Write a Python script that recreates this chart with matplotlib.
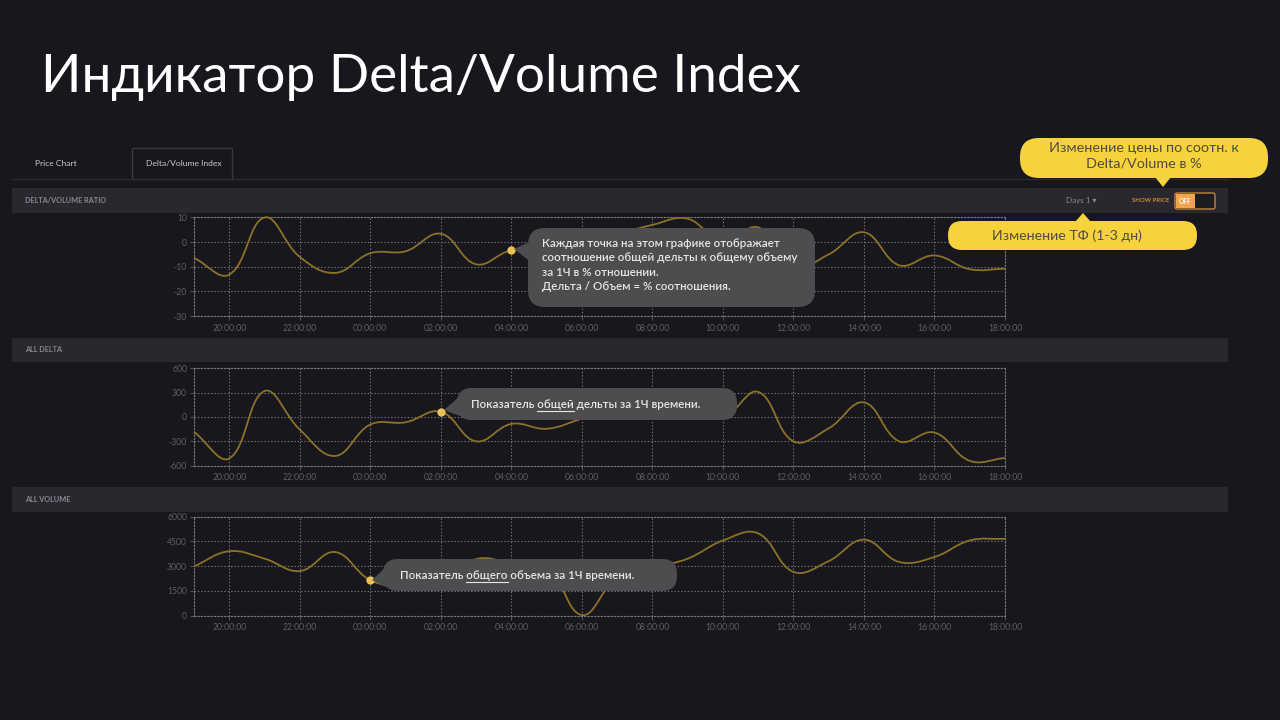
import matplotlib
matplotlib.use("Agg")
import matplotlib.pyplot as plt
from matplotlib.path import Path
from matplotlib.patches import PathPatch, FancyBboxPatch, Rectangle, Polygon
import numpy as np

plt.rcParams['font.family'] = ['Lato', 'DejaVu Sans']

# ---------------- data ----------------
hours = ["19:00:00", "20:00:00", "21:00:00", "22:00:00", "23:00:00", "00:00:00",
         "01:00:00", "02:00:00", "03:00:00", "04:00:00", "05:00:00", "06:00:00",
         "07:00:00", "08:00:00", "09:00:00", "10:00:00", "11:00:00", "12:00:00",
         "13:00:00", "14:00:00", "15:00:00", "16:00:00", "17:00:00", "18:00:00"]
ratio = [-6.4, -13.2, 10.0, -6.0, -12.5, -4.5, -3.7, 3.4, -9.0, -3.4, -4.5, -2.0,
         3.0, 7.0, 9.5, 0.0, 6.0, -10.0, -5.0, 4.0, -9.4, -5.4, -11.0, -10.8]
delta = [-183, -510, 320, -155, -480, -93, -65, 65, -300, -85, -145, -20,
         120, 200, 330, 20, 310, -300, -140, 180, -300, -192, -540, -505]
volume = [2980, 3900, 3450, 2700, 3850, 2150, 1800, 2000, 3420, 3200, 3000, 40,
          2300, 2900, 3450, 4550, 4980, 2650, 3300, 4600, 3250, 3550, 4550, 4650]

ratio_ticks = [-30, -20, -10, 0, 10]
delta_ticks = [-600, -300, 0, 300, 600]
volume_ticks = [0, 1500, 3000, 4500, 6000]

title = "Индикатор Delta/Volume Index"
tabs = ["Price Chart", "Delta/Volume Index"]
headers = ["DELTA/VOLUME RATIO", "ALL DELTA", "ALL VOLUME"]
callout_price = ["Изменение цены по соотн. к", "Delta/Volume в %"]
callout_tf = "Изменение ТФ (1-3 дн)"
tip_ratio = ["Каждая точка на этом графике отображает",
             "соотношение общей дельты к общему объему",
             "за 1Ч в % отношении.",
             "Дельта / Объем = % соотношения."]
tip_delta = ("Показатель ", "общей", " дельты за 1Ч времени.")
tip_volume = ("Показатель ", "общего", " объема за 1Ч времени.")

# ---------------- style ----------------
W, H = 1280, 720
BG = "#18171d"
BAR = "#29282f"
LINE = "#8b7228"
DOT = "#e8c158"
GRID = "#77767c"
TICK = "#5f5e65"
TIPBG = "#4d4d4f"
YEL = "#f6d23c"

fig = plt.figure(figsize=(12.8, 7.2), dpi=100, facecolor=BG)


def rect(x0, y0, x1, y1):
    return [x0 / W, 1 - y1 / H, (x1 - x0) / W, (y1 - y0) / H]


# background decoration layer
bg = fig.add_axes([0, 0, 1, 1], zorder=0)
bg.set_xlim(0, W)
bg.set_ylim(H, 0)
bg.axis('off')
bg.patch.set_alpha(0)

bg.plot([12, 1228], [179, 179], color="#2c2b33", lw=1)
bg.add_patch(Rectangle((132, 148), 100, 31, facecolor=BG, edgecolor="#3a3941", lw=1))
bg.text(35, 163, tabs[0], fontsize=6.1, color="#c9c9d0", va='center')
bg.text(146, 163, tabs[1], fontsize=6.1, color="#c9c9d0", va='center')

bars = [(188, 212.5), (338, 362), (487, 511.5)]
for (y0, y1), name in zip(bars, headers):
    bg.add_patch(Rectangle((12, y0), 1216, y1 - y0, facecolor=BAR, edgecolor='none'))
    bg.text(25, (y0 + y1) / 2, name, fontsize=5.2, color="#8b8a92", va='center',
            fontweight='bold')

bg.text(1066, 201, "Days 1 \u25BE", fontsize=5.8, color="#8a8990", va='center',
        family=['Lato', 'DejaVu Sans'])
bg.text(1132, 201, "SHOW PRICE", fontsize=4.3, color="#d08a33", va='center',
        fontweight='bold')
bg.add_patch(FancyBboxPatch((1175, 193), 40, 16,
                            boxstyle="round,pad=0,rounding_size=2",
                            facecolor="#1d1c22", edgecolor="#c0843a", lw=1))
bg.add_patch(Rectangle((1176, 194), 19, 14, facecolor="#f2a54a", edgecolor='none'))
bg.text(1185.5, 201.3, "OFF", fontsize=4.8, color="white", va='center', ha='center',
        fontweight='bold')


# ---------------- chart panels ----------------
def spline_path(xs, ys, sx, sy, t=0.4):
    P = np.column_stack([xs, ys]).astype(float)
    n = len(P)
    cprev, cnext = [], []
    for i in range(n):
        prev = P[max(i - 1, 0)]
        cur = P[i]
        nxt = P[min(i + 1, n - 1)]
        d01 = np.hypot((cur - prev)[0] * sx, (cur - prev)[1] * sy)
        d12 = np.hypot((nxt - cur)[0] * sx, (nxt - cur)[1] * sy)
        tot = d01 + d12
        s01 = d01 / tot if tot else 0
        s12 = d12 / tot if tot else 0
        cprev.append(cur - t * s01 * (nxt - prev))
        cnext.append(cur + t * s12 * (nxt - prev))
    verts = [P[0]]
    codes = [Path.MOVETO]
    for i in range(n - 1):
        verts += [cnext[i], cprev[i + 1], P[i + 1]]
        codes += [Path.CURVE4] * 3
    return Path(verts, codes)


panels = [
    (ratio, ratio_ticks, (194, 217.5, 1005, 316), 9),
    (delta, delta_ticks, (194, 368.3, 1005, 465.7), 7),
    (volume, volume_ticks, (194, 516.5, 1005, 615.7), 5),
]

x = np.arange(len(hours))
for vals, yt, box, hi in panels:
    ax = fig.add_axes(rect(*box), zorder=5)
    ax.set_facecolor('none')
    ax.set_xlim(0, len(hours) - 1)
    ax.set_ylim(yt[0], yt[-1])
    ax.set_yticks(yt)
    ax.set_yticklabels([str(v) for v in yt])
    ax.set_xticks(x[1::2])
    ax.set_xticklabels(hours[1::2])
    ax.grid(True, color=GRID, lw=0.8, linestyle=(0, (1.2, 1.8)))
    for s in ax.spines.values():
        s.set_color(GRID)
        s.set_linewidth(0.8)
        s.set_linestyle((0, (1.2, 1.8)))
    ax.tick_params(colors=TICK, labelsize=6.2, length=3, width=0.6, pad=2)
    ax.tick_params(axis='x', pad=2.5)
    for lab in ax.get_xticklabels() + ax.get_yticklabels():
        lab.set_color(TICK)
    pw = box[2] - box[0]
    ph = box[3] - box[1]
    sx = pw / (len(hours) - 1)
    sy = ph / (yt[-1] - yt[0])
    path = spline_path(x, vals, sx, sy)
    ax.add_patch(PathPatch(path, fill=False, edgecolor=LINE, lw=1.3, clip_on=False,
                           zorder=3))
    ax.plot([x[hi]], [vals[hi]], 'o', ms=6, color=DOT, mec='none', zorder=4,
            clip_on=False)

# ---------------- overlay (callouts / tooltips / title) ----------------
ov = fig.add_axes([0, 0, 1, 1], zorder=10)
ov.set_xlim(0, W)
ov.set_ylim(H, 0)
ov.axis('off')
ov.patch.set_alpha(0)

ov.text(41, 92, title, fontsize=38.2, color="white", va='baseline')

# yellow callouts
ov.add_patch(FancyBboxPatch((1020, 138), 248, 40, boxstyle="round,pad=0,rounding_size=19",
                            facecolor=YEL, edgecolor='none'))
ov.add_patch(Polygon([(1155, 177), (1171, 177), (1163, 187)], closed=True,
                     facecolor=YEL, edgecolor='none'))
ov.text(1144, 148, callout_price[0], fontsize=10.4, color="#514c44", ha='center',
        va='center')
ov.text(1144, 163.5, callout_price[1], fontsize=10.4, color="#514c44", ha='center',
        va='center')

ov.add_patch(FancyBboxPatch((948, 221), 249, 29, boxstyle="round,pad=0,rounding_size=14",
                            facecolor=YEL, edgecolor='none'))
ov.add_patch(Polygon([(1075, 222), (1091, 222), (1083, 213)], closed=True,
                     facecolor=YEL, edgecolor='none'))
ov.text(1067, 236, callout_tf, fontsize=10.2, color="#514c44", ha='center', va='center')

# gray tooltips
TIPTXT = "#e6e6e6"
ov.add_patch(FancyBboxPatch((528, 228), 287, 79, boxstyle="round,pad=0,rounding_size=17",
                            facecolor=TIPBG, edgecolor='none'))
ov.add_patch(Polygon([(531, 241), (531, 262), (514, 249)], closed=True,
                     facecolor=TIPBG, edgecolor='none'))
for i, line in enumerate(tip_ratio):
    ov.text(542, 243.5 + i * 14.3, line, fontsize=8.4, color=TIPTXT, va='center',
            fontweight='semibold')

fig.canvas.draw()
renderer = fig.canvas.get_renderer()


def text_width(s, **kw):
    t = ov.text(0, 0, s, **kw)
    w = t.get_window_extent(renderer=renderer).width
    t.remove()
    return w


def tooltip_line(x0, y0, x1, y1, tipx, tipy, tx, ty, runs):
    ov.add_patch(FancyBboxPatch((x0, y0), x1 - x0, y1 - y0,
                                boxstyle="round,pad=0,rounding_size=15",
                                facecolor=TIPBG, edgecolor='none'))
    ov.add_patch(Polygon([(x0 + 3, y0 + 8), (x0 + 3, y1 - 4), (tipx, tipy)], closed=True,
                         facecolor=TIPBG, edgecolor='none'))
    kw = dict(fontsize=8.4, fontweight='semibold')
    full = "".join(runs)
    ov.text(tx, ty, full, color=TIPTXT, va='baseline', **kw)
    wpre = text_width(runs[0] + runs[1], **kw)
    wword = text_width(runs[1], **kw)
    ov.plot([tx + wpre - wword, tx + wpre], [ty + 2.6, ty + 2.6], color=TIPTXT, lw=0.8)


tooltip_line(457, 388, 737, 420, 444, 410, 471, 408, tip_delta)
tooltip_line(383, 559, 677, 591, 372, 580, 400, 579, tip_volume)

fig.savefig("out.png", dpi=100, facecolor=BG)
